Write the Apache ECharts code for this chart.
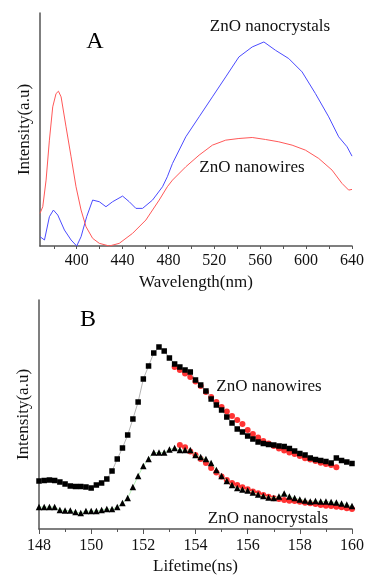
<!DOCTYPE html>
<html>
<head>
<meta charset="utf-8">
<script src="https://cdn.jsdelivr.net/npm/echarts@6/dist/echarts.min.js"></script>
<style>
  html, body { margin: 0; padding: 0; background: #fff; }
  #main { width: 367px; height: 577px; }
</style>
</head>
<body>
<div id="main"></div>
<script>
// panel A : PL spectra
var wlBlue = [368, 371.9, 376.2, 379.7, 383.5, 389.3, 395.1, 400, 403.8, 408.7, 413.9, 419.7, 425.5, 431.3, 440, 445.8, 451.6, 457.4, 466.1, 474.8, 479, 483.5, 495.1, 506.7, 518.3, 529.9, 541.4, 553, 563.2, 573.3, 584.9, 596.5, 608.1, 619.7, 628.4, 635.7, 640];
var nanocrystalsPL = [28, 18, 88, 108, 93, 48, 18, 0, 28, 88, 138, 133, 118, 133, 150, 133, 113, 113, 138, 178, 208, 248, 328, 388, 448, 508, 568, 598, 613, 588, 563, 523, 458, 388, 328, 298, 270];

var wlRed = [368, 370.4, 373.3, 376.2, 379.1, 382, 384.1, 386.4, 390.7, 395.1, 399.4, 403.8, 408.1, 413.9, 419.7, 428.4, 437.1, 448.7, 460.3, 471.9, 479, 483.5, 495.1, 506.7, 518.3, 529.9, 541.4, 553, 564.6, 576.2, 587.8, 599.4, 611, 622.6, 631.3, 637.1, 640];
var nanowiresPL = [98, 118, 198, 318, 418, 458, 465, 448, 358, 268, 178, 108, 58, 23, 8, 0, 8, 38, 78, 138, 178, 198, 238, 273, 303, 318, 323, 326, 320, 313, 303, 288, 263, 228, 188, 168, 170];

var wlTicks = [380, 400, 420, 440, 460, 480, 500, 520, 540, 560, 580, 600, 620, 640];
var wlLabels = [400, 440, 480, 520, 560, 600, 640];

// panel B : decay curves
var lifeTime = [148, 148.2, 148.4, 148.6, 148.8, 149, 149.2, 149.4, 149.6, 149.8,
  150, 150.2, 150.4, 150.6, 150.8, 151, 151.2, 151.4, 151.6, 151.8,
  152, 152.2, 152.4, 152.6, 152.8, 153, 153.2, 153.4, 153.6, 153.8,
  154, 154.2, 154.4, 154.6, 154.8, 155, 155.2, 155.4, 155.6, 155.8,
  156, 156.2, 156.4, 156.6, 156.8, 157, 157.2, 157.4, 157.6, 157.8,
  158, 158.2, 158.4, 158.6, 158.8, 159, 159.2, 159.4, 159.6, 159.8, 160];

var nanowiresDecay = [48, 48.5, 49, 48.5, 47, 45, 43, 42.5, 42.5, 42,
  41, 44, 46, 50, 58, 70, 81, 94, 110, 127,
  150, 163, 176, 182, 178, 171, 165, 162, 159, 157,
  149, 144, 138, 130, 124, 119, 112, 106, 100, 97,
  93, 90, 87, 85.5, 84.5, 84, 83, 82.5, 80.5, 78,
  75.5, 74, 71, 69.5, 68.5, 67.5, 66, 71, 68.5, 67, 65.5];
var nanowiresFit = [162, 159, 155.5, 152, 147.5, 143, 137, 132, 127, 122,
  117.5, 113, 109, 105, 99, 95, 91.5, 88, 85.5, 83,
  80.5, 78.5, 76.5, 75, 73, 70.7, 69.5, 68, 66.3, 65, 64, 61.7];

var nanocrystalsDecay = [22, 22, 22, 22, 19, 18.5, 18.5, 17, 16, 18,
  18, 18, 19, 20, 20, 22, 26, 31, 42, 53,
  63, 70, 76.5, 76.5, 76.5, 79.5, 81, 79, 79, 79,
  74, 72, 70, 66, 59, 53, 48, 44, 41, 39.5,
  38.5, 36.5, 34.5, 33, 31.5, 31, 32.5, 35.5, 32.5, 31,
  29.5, 28.5, 27.5, 28, 27.5, 27.5, 27, 26.5, 25.5, 24.5, 23];
var nanocrystalsFit = [84, 81.7, 77.5, 74, 70, 66, 61, 56.5, 52.5, 49,
  46, 44, 41.7, 39.7, 37.5, 35.7, 34, 32.3, 30.7, 30,
  29, 28.3, 28, 27.3, 26.3, 25.7, 25, 24, 23.3, 23,
  22.3, 21.7, 20.7, 20];

function pairs(xs, ys) {
  return ys.map(function (y, i) { return [xs[i], y]; });
}

var serif = '"Liberation Serif", "DejaVu Serif", serif';
var chart = echarts.init(document.getElementById('main'));

var axisLine = { show: true, lineStyle: { color: '#555', width: 1.5 } };

var option = {
  animation: false,
  backgroundColor: '#fff',
  grid: [
    { left: 40, right: 14, top: 13, bottom: 331 },
    { left: 39, right: 14, top: 300, bottom: 48 }
  ],
  xAxis: [
    {
      gridIndex: 0, type: 'value', min: 368, max: 640,
      axisLine: axisLine,
      axisTick: { show: true, inside: false, length: 3, customValues: wlTicks, lineStyle: { color: '#555' } },
      axisLabel: { customValues: wlLabels, color: '#111', fontFamily: serif, fontSize: 16, margin: 7 },
      splitLine: { show: false },
      name: 'Wavelength(nm)', nameLocation: 'middle', nameGap: 28,
      nameTextStyle: { color: '#111', fontFamily: serif, fontSize: 17 }
    },
    {
      gridIndex: 1, type: 'value', min: 148, max: 160, interval: 2,
      axisLine: axisLine,
      axisTick: { show: true, length: 5, lineStyle: { color: '#555' } },
      minorTick: { show: true, splitNumber: 2, length: 3, lineStyle: { color: '#555' } },
      axisLabel: { color: '#111', fontFamily: serif, fontSize: 16, margin: 9 },
      splitLine: { show: false },
      name: 'Lifetime(ns)', nameLocation: 'middle', nameGap: 29,
      nameTextStyle: { color: '#111', fontFamily: serif, fontSize: 17 }
    }
  ],
  yAxis: [
    {
      gridIndex: 0, type: 'value', min: 0, max: 700,
      axisLine: axisLine, axisTick: { show: false }, axisLabel: { show: false },
      splitLine: { show: false },
      name: 'Intensity(a.u)', nameLocation: 'middle', nameGap: 7,
      nameTextStyle: { color: '#111', fontFamily: serif, fontSize: 17 }
    },
    {
      gridIndex: 1, type: 'value', min: 0, max: 229,
      axisLine: axisLine, axisTick: { show: false }, axisLabel: { show: false },
      splitLine: { show: false },
      name: 'Intensity(a.u)', nameLocation: 'middle', nameGap: 7,
      nameTextStyle: { color: '#111', fontFamily: serif, fontSize: 17 }
    }
  ],
  series: [
    {
      name: 'ZnO nanocrystals PL', type: 'line', xAxisIndex: 0, yAxisIndex: 0,
      data: pairs(wlBlue, nanocrystalsPL), showSymbol: false,
      lineStyle: { color: '#4b4bff', width: 1 }
    },
    {
      name: 'ZnO nanowires PL', type: 'line', xAxisIndex: 0, yAxisIndex: 0,
      data: pairs(wlRed, nanowiresPL), showSymbol: false,
      lineStyle: { color: '#ff5858', width: 1 }
    },
    {
      name: 'ZnO nanowires', type: 'line', xAxisIndex: 1, yAxisIndex: 1,
      data: pairs(lifeTime, nanowiresDecay),
      symbol: 'rect', symbolSize: 5.5,
      itemStyle: { color: '#000' },
      lineStyle: { color: '#b5b5b5', width: 1 }
    },
    {
      name: 'ZnO nanocrystals', type: 'line', xAxisIndex: 1, yAxisIndex: 1,
      data: pairs(lifeTime, nanocrystalsDecay),
      symbol: 'triangle', symbolSize: 6.5,
      itemStyle: { color: '#000' },
      lineStyle: { color: '#b8f0b8', width: 1 }
    },
    {
      name: 'nanowires fit', type: 'scatter', xAxisIndex: 1, yAxisIndex: 1,
      data: pairs(lifeTime.slice(26), nanowiresFit),
      symbol: 'circle', symbolSize: 6,
      itemStyle: { color: '#ff0000' }
    },
    {
      name: 'nanocrystals fit', type: 'scatter', xAxisIndex: 1, yAxisIndex: 1,
      data: pairs(lifeTime.slice(27), nanocrystalsFit),
      symbol: 'circle', symbolSize: 6,
      itemStyle: { color: '#ff0000' }
    }
  ],
  graphic: [
    { type: 'text', x: 95, y: 42, style: { text: 'A', font: '24px ' + serif, fill: '#000', align: 'center', verticalAlign: 'middle' } },
    { type: 'text', x: 270, y: 27, style: { text: 'ZnO nanocrystals', font: '17px ' + serif, fill: '#111', align: 'center', verticalAlign: 'middle' } },
    { type: 'text', x: 252, y: 168, style: { text: 'ZnO nanowires', font: '17px ' + serif, fill: '#111', align: 'center', verticalAlign: 'middle' } },
    { type: 'text', x: 88, y: 320, style: { text: 'B', font: '24px ' + serif, fill: '#000', align: 'center', verticalAlign: 'middle' } },
    { type: 'text', x: 269, y: 387, style: { text: 'ZnO nanowires', font: '17px ' + serif, fill: '#111', align: 'center', verticalAlign: 'middle' } },
    { type: 'text', x: 268, y: 519, style: { text: 'ZnO nanocrystals', font: '17px ' + serif, fill: '#111', align: 'center', verticalAlign: 'middle' } }
  ]
};

chart.setOption(option);
</script>
</body>
</html>
